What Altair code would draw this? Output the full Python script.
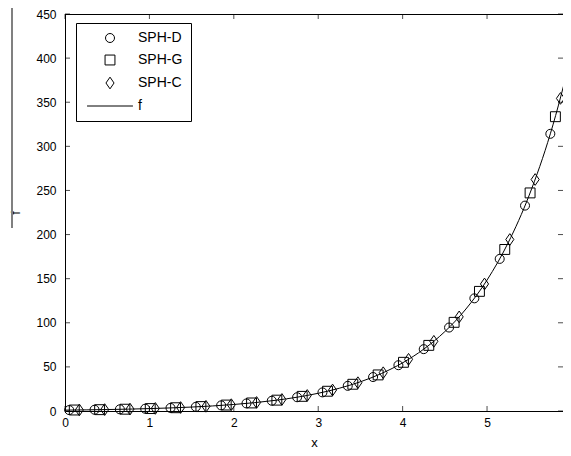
import altair as alt
import pandas as pd

# ---- data ----
d_x = [0.05, 0.35, 0.65, 0.95, 1.25, 1.55, 1.85, 2.15, 2.45, 2.75,
       3.05, 3.35, 3.65, 3.95, 4.25, 4.55, 4.85, 5.15, 5.45, 5.75]
d_f = [1.05, 1.42, 1.92, 2.59, 3.49, 4.71, 6.36, 8.58, 11.6, 15.6,
       21.1, 28.5, 38.5, 51.9, 70.1, 94.6, 127.7, 172.4, 232.8, 314.2]
g_x = [0.11, 0.41, 0.71, 1.01, 1.31, 1.61, 1.91, 2.21, 2.51, 2.81,
       3.11, 3.41, 3.71, 4.01, 4.31, 4.61, 4.91, 5.21, 5.51, 5.81]
g_f = [1.12, 1.51, 2.03, 2.75, 3.71, 5.00, 6.75, 9.12, 12.3, 16.6,
       22.4, 30.3, 40.9, 55.2, 74.4, 100.5, 135.6, 183.1, 247.2, 333.6]
c_x = [0.17, 0.47, 0.77, 1.07, 1.37, 1.67, 1.97, 2.27, 2.57, 2.87,
       3.17, 3.47, 3.77, 4.07, 4.37, 4.67, 4.97, 5.27, 5.57, 5.87]
c_f = [1.19, 1.60, 2.16, 2.92, 3.94, 5.31, 7.17, 9.68, 13.1, 17.6,
       23.8, 32.1, 43.4, 58.6, 79.0, 106.7, 144.0, 194.4, 262.4, 354.3]
curve_x = [0, 0.25, 0.5, 0.75, 1.0, 1.25, 1.5, 1.75, 2.0, 2.25, 2.5, 2.75,
           3.0, 3.25, 3.5, 3.75, 4.0, 4.25, 4.5, 4.75, 5.0, 5.25, 5.5, 5.75, 6.0]
curve_f = [1.0, 1.28, 1.65, 2.12, 2.72, 3.49, 4.48, 5.75, 7.39, 9.49, 12.18, 15.64,
           20.09, 25.79, 33.12, 42.52, 54.6, 70.1, 90.0, 115.6, 148.4, 190.6, 244.7, 314.2, 403.4]
series_names = ["SPH-D", "SPH-G", "SPH-C", "f"]
x_ticks = [0, 1, 2, 3, 4, 5]
y_ticks = [0, 50, 100, 150, 200, 250, 300, 350, 400, 450]

W, H = 498, 397
X_MAX = 5.9
FONT = "Liberation Sans"

pts = pd.concat([
    pd.DataFrame({"x": d_x, "f": d_f, "series": "SPH-D"}),
    pd.DataFrame({"x": g_x, "f": g_f, "series": "SPH-G"}),
    pd.DataFrame({"x": c_x, "f": c_f, "series": "SPH-C"}),
], ignore_index=True)
curve = pd.DataFrame({"x": curve_x, "f": curve_f})
xt = pd.DataFrame({"x": x_ticks})
yt = pd.DataFrame({"f": y_ticks})

xs = alt.Scale(domain=[0, X_MAX], nice=False, zero=False)
ys = alt.Scale(domain=[0, 450], nice=False)
ax_x = alt.Axis(title="x", values=x_ticks, ticks=False, grid=False, labelPadding=6,
                titlePadding=8, labelFlush=False)
ax_y = alt.Axis(title="f", values=y_ticks, ticks=False, grid=False, labelPadding=9,
                titlePadding=13, labelFlush=False)

shape_scale = alt.Scale(
    domain=series_names,
    range=["circle", "M-1.1,-1.1H1.1V1.1H-1.1Z", "M0,-1.3L0.9,0L0,1.3L-0.9,0Z", "M-5.1,0H5.1"],
)

line = alt.Chart(curve).mark_line(color="black", strokeWidth=1, clip=True, interpolate="monotone").encode(
    x=alt.X("x:Q", scale=xs, axis=ax_x),
    y=alt.Y("f:Q", scale=ys, axis=ax_y),
)

points = alt.Chart(pts).mark_point(filled=False, color="black", strokeWidth=1, size=81, opacity=1).encode(
    x=alt.X("x:Q", scale=xs, axis=ax_x),
    y=alt.Y("f:Q", scale=ys, axis=ax_y),
    shape=alt.Shape("series:N", scale=shape_scale, legend=alt.Legend(
        title=None, orient="none", legendX=11, legendY=9,
        strokeColor="black", fillColor="white", padding=8,
        symbolOffset=19, labelOffset=21, labelFontSize=14, labelFont=FONT,
        labelColor="black", rowPadding=8, symbolStrokeColor="black",
        symbolFillColor="transparent", symbolStrokeWidth=1, symbolSize=81,
        cornerRadius=0)),
)

tick_bottom = alt.Chart(xt).mark_tick(color="black", size=5, thickness=1).encode(
    x=alt.X("x:Q", scale=xs, axis=ax_x), y=alt.value(H - 2.5))
tick_top = alt.Chart(xt).mark_tick(color="black", size=5, thickness=1).encode(
    x=alt.X("x:Q", scale=xs, axis=ax_x), y=alt.value(2.5))
tick_left = alt.Chart(yt).mark_tick(color="black", size=5, thickness=1).encode(
    y=alt.Y("f:Q", scale=ys, axis=ax_y), x=alt.value(2.5))
tick_right = alt.Chart(yt).mark_tick(color="black", size=5, thickness=1).encode(
    y=alt.Y("f:Q", scale=ys, axis=ax_y), x=alt.value(W - 2.5))

top_border = alt.Chart(xt).mark_rule(color="black", strokeWidth=1).encode(
    x=alt.value(0), x2=alt.value(W + 10), y=alt.value(0.5))
side_line = alt.Chart(xt).mark_rule(color="#808080", strokeWidth=1.5).encode(
    x=alt.value(-53), y=alt.value(-14), y2=alt.value(214))

chart = alt.layer(line, points, tick_bottom, tick_top, tick_left, tick_right,
                  top_border, side_line).properties(
    width=W, height=H,
    background="white",
    autosize=alt.AutoSizeParams(type="none"),
    padding={"left": 57, "top": 6, "right": 0, "bottom": 42},
).configure_view(stroke=None).configure_axis(
    domainColor="black", domainWidth=1, labelColor="black", labelFont=FONT, labelFontSize=12,
    titleColor="black", titleFont=FONT, titleFontSize=13, titleFontWeight="normal",
)

chart.save("out.html", embed_options={"renderer": "svg", "actions": False})
